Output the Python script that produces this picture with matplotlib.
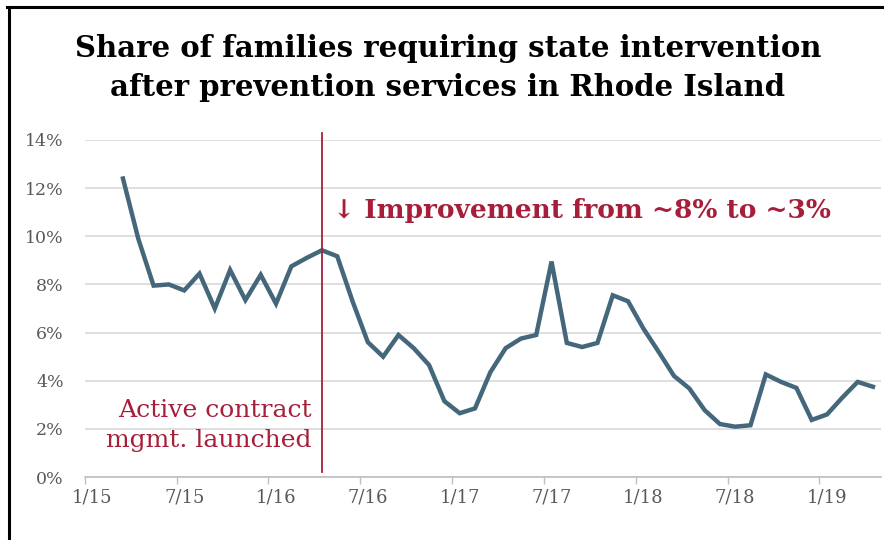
import matplotlib.pyplot as plt
import numpy as np

# monthly share of families, 3/15 .. 4/19 (percent)
share = [12.4, 9.9, 7.95, 8.0, 7.75, 8.45, 7.0, 8.6, 7.35, 8.4,
         7.2, 8.75, 9.1, 9.42, 9.17, 7.3, 5.6, 5.0, 5.9, 5.35,
         4.65, 3.15, 2.65, 2.85, 4.35, 5.35, 5.75, 5.9, 8.95, 5.57,
         5.4, 5.57, 7.55, 7.3, 6.17, 5.2, 4.2, 3.68, 2.78, 2.2,
         2.09, 2.15, 4.26, 3.95, 3.7, 2.37, 2.6, 3.3, 3.95, 3.75]
first_month = 2          # months after 1/15
n_months = 52            # 1/15 .. 4/19
tick_labels = ['1/15', '7/15', '1/16', '7/16', '1/17', '7/17', '1/18', '7/18', '1/19']
launch_month = 15        # 4/16

line_col = '#44677B'
red = '#A61E3A'
grey = '#595959'
serif = 'DejaVu Serif'

fig = plt.figure(figsize=(8.84, 5.40), dpi=100)
ax = fig.add_axes([84.7 / 884, 1 - 477 / 540, (880.6 - 84.7) / 884, (477 - 140) / 540])

x = np.arange(len(share)) + first_month
ax.plot(x, share, color=line_col, linewidth=3.2, solid_joinstyle='miter', zorder=3)

ax.set_xlim(-0.5, n_months - 0.5)
ax.set_ylim(0, 14)

ax.set_yticks(np.arange(0, 15, 2))
ax.set_yticklabels([f'{v}%' for v in range(0, 15, 2)], fontfamily=serif, fontsize=12.5, color=grey)
ax.yaxis.grid(True, color='#D9D9D9', linewidth=1.2)
ax.set_axisbelow(True)
ax.tick_params(axis='y', length=0, pad=15)

ax.set_xticks(np.arange(0, 49, 6))
ax.set_xticklabels(tick_labels, fontfamily=serif, fontsize=13, color=grey)
ax.set_xticks(np.arange(-0.5, 48, 6), minor=True)
ax.tick_params(axis='x', which='major', length=0, pad=8)
ax.tick_params(axis='x', which='minor', length=5, color='#BFBFBF', width=1)

for s in ['top', 'right', 'left']:
    ax.spines[s].set_visible(False)
ax.spines['bottom'].set_color('#BFBFBF')
ax.spines['bottom'].set_linewidth(1.2)

# launch marker
ax.plot([launch_month, launch_month], [0.2, 14.3], color=red, linewidth=1.3, clip_on=False, zorder=4)
ax.text(launch_month + 0.7, 11.08, '\u2193 Improvement from ~8% to ~3%', color=red,
        fontfamily=serif, fontweight='bold', fontsize=19, ha='left', va='center')
ax.text(launch_month - 0.66, 2.14, 'Active contract\nmgmt. launched', color=red,
        fontfamily=serif, fontsize=18, ha='right', va='center', linespacing=1.35,
        multialignment='right')

fig.text(448 / 884, 1 - 68 / 540, 'Share of families requiring state intervention\nafter prevention services in Rhode Island',
         ha='center', va='center', fontfamily=serif, fontweight='bold', fontsize=21,
         linespacing=1.4, color='black')

# frame edges of the original panel
fig.add_artist(plt.Line2D([8.5 / 884, 8.5 / 884], [0, 1 - 6.8 / 540], color='black', linewidth=2.2, transform=fig.transFigure))
fig.add_artist(plt.Line2D([7.5 / 884, 1], [1 - 6.8 / 540, 1 - 6.8 / 540], color='black', linewidth=2.2, transform=fig.transFigure))

fig.savefig('out.png', dpi=100)
